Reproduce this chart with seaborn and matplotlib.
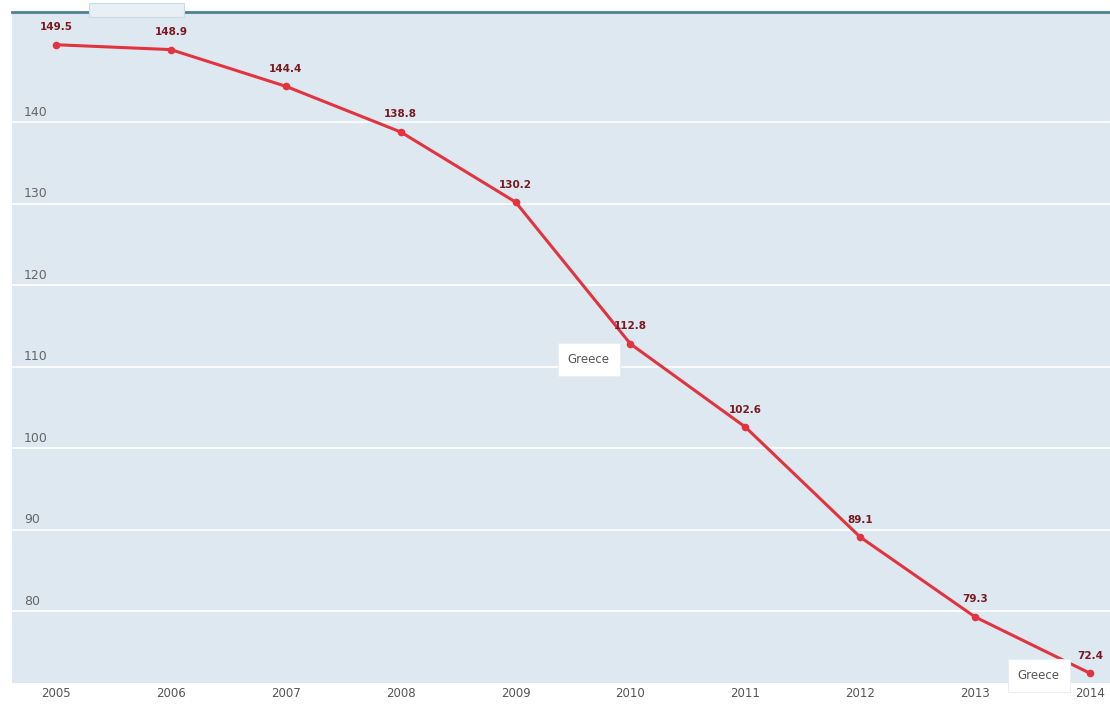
import matplotlib.pyplot as plt
import matplotlib.transforms as mtransforms
import seaborn as sns
import pandas as pd

years = [2005, 2006, 2007, 2008, 2009, 2010, 2011, 2012, 2013, 2014]
values = [149.5, 148.9, 144.4, 138.8, 130.2, 112.8, 102.6, 89.1, 79.3, 72.4]
y_ticks = [80, 90, 100, 110, 120, 130, 140]
series_name = 'Greece'
tooltip_years = [2010, 2014]

df = pd.DataFrame({'year': years, 'value': values})

sns.set_style('white')
plt.rcParams['font.family'] = ['DejaVu Sans']

fig = plt.figure(figsize=(11.1, 7.17), dpi=100)
ax = fig.add_axes([0.0108, 0.0474, 0.9892, 0.9357])
ax.set_facecolor('#dde8f1')

sns.lineplot(data=df, x='year', y='value', ax=ax, color='#e2343f', lw=2.2,
             marker='o', markersize=5.5, markeredgewidth=0, zorder=3)

ax.set_xlim(2004.617, 2014.174)
ax.set_ylim(71.2, 153.5)
ax.set_xticks(years)
ax.set_xticklabels([str(y) for y in years], fontsize=8.5, color='#555555')
ax.tick_params(axis='x', length=4, width=1, color='white', direction='in', pad=3)
ax.set_yticks(y_ticks)
ax.set_yticklabels([])
ax.tick_params(axis='y', length=0)
ax.grid(axis='y', color='white', lw=1.2)
ax.set_xlabel('')
ax.set_ylabel('')
for s in ['left', 'right', 'bottom']:
    ax.spines[s].set_visible(False)
ax.spines['top'].set_color('#4d8196')
ax.spines['top'].set_linewidth(2)

# y labels sit inside the plot, just above the gridlines
trans = mtransforms.blended_transform_factory(ax.transAxes, ax.transData)
for t in y_ticks:
    ax.text(0.011, t + 0.4, str(t), transform=trans, fontsize=9,
            color='#666666', va='bottom', ha='left')

# point labels
for x, v in zip(years, values):
    ax.annotate(f'{v}', (x, v), xytext=(0, 9), textcoords='offset points',
                ha='center', va='bottom', fontsize=7.5, fontweight='bold',
                color='#7a1a1f')

# tooltips
tip_offsets = [(-30, -11.5), (-37, -1.5)]
for ty, off in zip(tooltip_years, tip_offsets):
    v = values[years.index(ty)]
    ax.annotate(series_name, (ty, v), xytext=off, textcoords='offset points',
                ha='center', va='center', fontsize=8.5, color='#555555',
                bbox=dict(boxstyle='square,pad=0.85', fc='white', ec='#e8eef2', lw=0.8),
                zorder=5)

# small tab on the top border
ax.add_patch(plt.Rectangle((0.07, 0.993), 0.087, 0.02, transform=ax.transAxes,
                           fc='#e8f0f6', ec='#c9dbe6', lw=0.8, clip_on=False, zorder=6))

fig.savefig('out.png', dpi=100)
